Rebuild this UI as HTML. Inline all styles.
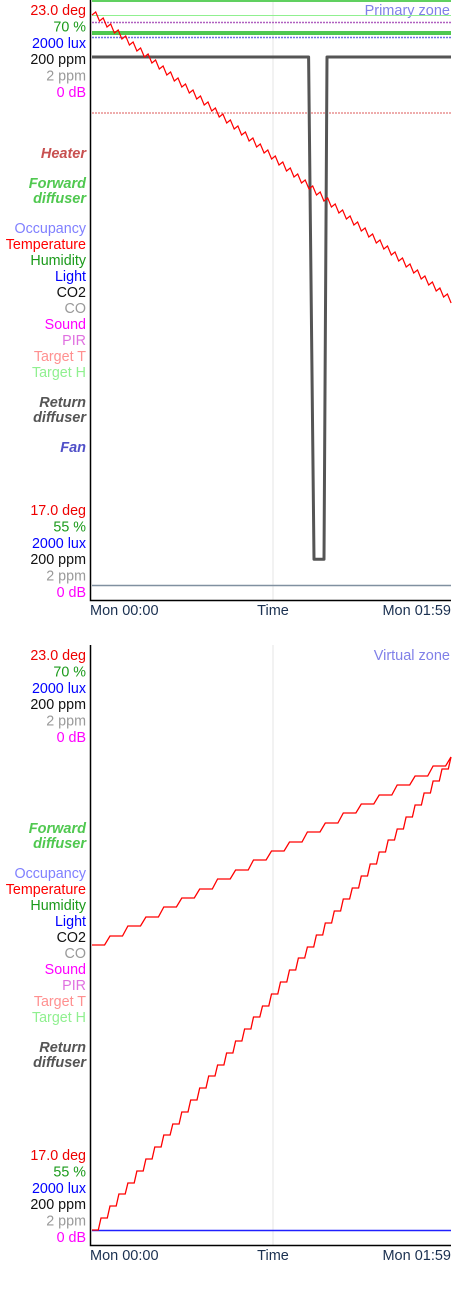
<!DOCTYPE html>
<html><head><meta charset="utf-8"><style>
html,body{margin:0;padding:0;background:#fff;width:456px;height:1290px;overflow:hidden}
svg text{font-family:"Liberation Sans",sans-serif}
</style></head><body>
<svg id="svg" width="456" height="1290" xmlns="http://www.w3.org/2000/svg"></svg>
<script>
// ---- data ----
const yLabelsTop = [["23.0 deg","#e00"],["70 %","#1a9a1a"],["2000 lux","#00f"],["200 ppm","#111"],["2 ppm","#999"],["0 dB","#f0f"]];
const yLabelsBottom = [["17.0 deg","#e00"],["55 %","#1a9a1a"],["2000 lux","#00f"],["200 ppm","#111"],["2 ppm","#999"],["0 dB","#f0f"]];
const xTickLabels = ["Mon 00:00","Time","Mon 01:59"];
const sensorLegend = [["Occupancy","#8080ff"],["Temperature","#f00"],["Humidity","#1a9a1a"],["Light","#00f"],["CO2","#111"],["CO","#999"],["Sound","#f0f"],["PIR","#e070e0"],["Target T","#ff9090"],["Target H","#90f090"]];
// chart 1 temperature (deg) every 1.24 min
const temp1 = [22.85,22.88,22.79,22.82,22.73,22.76,22.67,22.70,22.61,22.64,22.55,22.58,22.49,22.52,22.43,22.46,22.37,22.40,22.31,22.34,22.25,22.28,22.19,22.22,22.13,22.16,22.07,22.10,22.01,22.04,21.95,21.98,21.89,21.92,21.83,21.86,21.77,21.80,21.71,21.74,21.65,21.68,21.59,21.62,21.53,21.56,21.47,21.50,21.41,21.44,21.35,21.38,21.29,21.32,21.23,21.26,21.17,21.20,21.11,21.14,21.05,21.08,20.99,21.02,20.93,20.96,20.87,20.90,20.81,20.84,20.75,20.78,20.69,20.72,20.63,20.66,20.57,20.60,20.51,20.54,20.45,20.48,20.39,20.42,20.33,20.36,20.27,20.30,20.21,20.24,20.15,20.18,20.09,20.12,20.03,20.06,19.97];
// return diffuser (% of axis) at minutes
const fanTimes = [0,71.8,73.6,74.2,76.9,77.9,119];
const fanVals = [90.5,90.5,6.8,6.8,6.8,90.5,90.5];
// chart 2 step series
const temp2a = [20.00,20.09,20.19,20.28,20.38,20.47,20.56,20.66,20.75,20.85,20.94,21.03,21.13,21.22,21.32,21.41,21.50,21.60,21.69,21.79,21.88];
const temp2b = [17.15,17.27,17.39,17.51,17.62,17.74,17.86,17.98,18.10,18.21,18.33,18.45,18.57,18.69,18.80,18.92,19.04,19.16,19.28,19.39,19.51,19.63,19.75,19.87,19.98,20.10,20.22,20.34,20.46,20.57,20.69,20.81,20.93,21.05,21.16,21.28,21.40,21.52,21.64,21.76,21.88];

const NS="http://www.w3.org/2000/svg", svg=document.getElementById('svg');
function mk(tag,attrs,parent){const e=document.createElementNS(NS,tag);for(const k in attrs)e.setAttribute(k,attrs[k]);(parent||svg).appendChild(e);return e;}
const X0=92,X1=451;
const xs=m=>X0+(m/119)*(X1-X0);
function chart(top,zone,names){
  const g=mk('g',{});
  
  
  const ys=d=>top+(23-d)*100;
  const yp=p=>top+600-p*6;
  const grid=mk('line',{x1:273,x2:273,y1:top,y2:top+600,stroke:'#e6e6e6','stroke-width':1},g);
  
  
  const ax=mk('path',{d:`M90.5 ${top} V${top+600.5} H451`,stroke:'#000',fill:'none','stroke-width':1.5},g);
  
  
  function txt(s,x,y,fill,opt){const t=mk('text',Object.assign({x:x,y:y,fill:fill,'font-size':14.3,'text-anchor':'end','dominant-baseline':'central'},opt||{}),g);t.textContent=s;return t;}
  const B={'font-weight':'bold','font-style':'italic','font-size':14.5};
  yLabelsTop.forEach((l,i)=>{const t=txt(l[0],86,top+11+i*16.4,l[1]);
    
    });
  yLabelsBottom.forEach((l,i)=>{const t=txt(l[0],86,top+511+i*16.4,l[1]);
    
    });
  if(zone==='Primary zone'){const t=txt('Heater',86,top+154,'#c85050',B);
    
    }
  const f1=txt('Forward',86,top+184,'#50c850',B);
  
  
  const f2=txt('diffuser',86,top+199,'#50c850',B);
  
  
  sensorLegend.forEach((l,i)=>{const t=txt(l[0],86,top+229+i*16.0,l[1]);
    
    });
  const r1=txt('Return',86,top+403,'#555',B);
  
  
  const r2=txt('diffuser',86,top+418,'#555',B);
  
  
  if(zone==='Primary zone'){const t=txt('Fan',86,top+448,'#5050c8',B);
    
    }
  const z=txt(zone,450,top+11,'#8080e8',{'font-size':14.5});
  
  
  const anchors=['start','middle','end'],xp=[90,273,451];
  xTickLabels.forEach((s,i)=>{const t=txt(s,xp[i],top+611,'#1a3050',{'text-anchor':anchors[i],'font-size':14.5});
    
    });
  return {g,ys,yp};
}
function hline(g,y,color,w,name,dash){const l=mk('line',{x1:92,x2:451,y1:y,y2:y,stroke:color,'stroke-width':w},g);if(dash)l.setAttribute('stroke-dasharray',dash);
  
  }

// chart 1
const c1=chart(0,'Primary zone','primary-zone-chart');
hline(c1.g,1,'#60d060',2,'top-edge-line');
hline(c1.g,15.5,'#90f090',1,'target-h-line');
hline(c1.g,22.5,'#b060c0',1.5,'pir-line','2 1');
hline(c1.g,33,'#50c850',4,'forward-diffuser-line');
hline(c1.g,37.5,'#7070e0',1.5,'occupancy-line','2 1');
hline(c1.g,113,'#e89090',1.5,'target-t-line','2 1');
hline(c1.g,585.5,'#8090a0',1.5,'co-line');
let d='';
fanTimes.forEach((t,i)=>{d+=(i?'L':'M')+xs(t).toFixed(1)+' '+c1.yp(fanVals[i]).toFixed(1);});
const fan=mk('path',{d:d,stroke:'#555',fill:'none','stroke-width':3,'stroke-linejoin':'round'},c1.g);


d='';
temp1.forEach((v,i)=>{d+=(i?'L':'M')+xs(i*1.24).toFixed(1)+' '+c1.ys(v).toFixed(1);});
const t1=mk('path',{d:d,stroke:'#f00',fill:'none','stroke-width':1.2},c1.g);



// chart 2
const c2=chart(645,'Virtual zone','virtual-zone-chart');
hline(c2.g,645+585.5,'#2020ff',1.5,'light-line');
function step(arr,g,name){const n=arr.length-1;let d='';
  arr.forEach((v,i)=>{const x=xs(i*119/n),y=c2.ys(v);
    if(i===0)d+='M'+x.toFixed(1)+' '+y.toFixed(1);
    else{const xp=xs((i-0.3)*119/n);d+='L'+xp.toFixed(1)+' '+c2.ys(arr[i-1]).toFixed(1)+'L'+x.toFixed(1)+' '+y.toFixed(1);}
  });
  d+='L'+xs(119).toFixed(1)+' '+c2.ys(arr[n]).toFixed(1);
  const p=mk('path',{d:d,stroke:'#f00',fill:'none','stroke-width':1.3},g);
  
  }
step(temp2a,c2.g,'temperature-series-a');
step(temp2b,c2.g,'temperature-series-b');
</script>
</body></html>
